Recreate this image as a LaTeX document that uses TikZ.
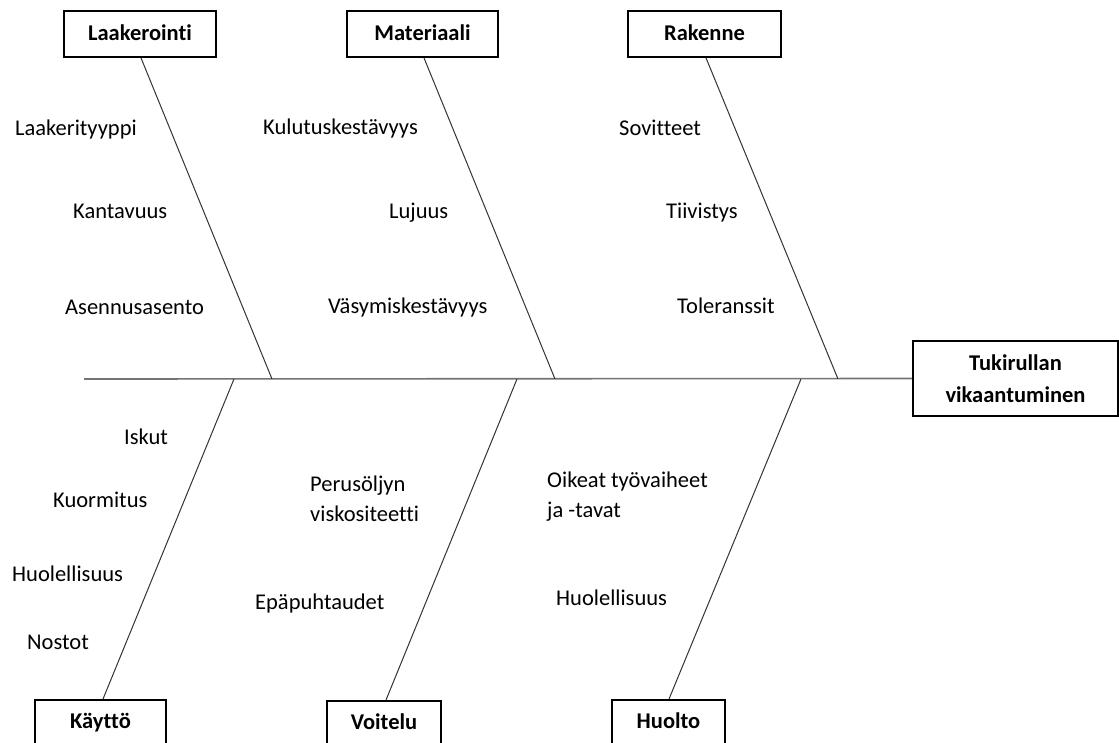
\documentclass[tikz,border=0pt]{standalone}
\usepackage{fontspec}
\setmainfont[Ligatures=NoCommon]{Carlito}
\begin{document}
\begin{tikzpicture}[x=1pt,y=-1pt,
  cat/.style={draw=black,line width=1.8pt,fill=white,inner sep=0pt,font=\fontsize{22.5}{32}\selectfont\bfseries,align=center},
  catone/.style={cat,text height=16pt,text depth=4pt,minimum height=46pt},
  lbl/.style={anchor=base west,inner sep=0pt,font=\fontsize{22.5}{30}\selectfont,align=left},
  bone/.style={draw=black!80,line width=1pt},
  spine/.style={draw=black!55,line width=1.6pt}]
\useasboundingbox (0,0) rectangle (1119,742);
\clip (0,0) rectangle (1119,742);
% boxes
\node[catone,minimum width=152pt] (laak) at (140,34) {Laakerointi};
\node[catone,minimum width=151pt] (mat) at (422.5,34) {Materiaali};
\node[catone,minimum width=153pt] (rak) at (704.5,34) {Rakenne};
\node[cat,minimum width=205pt,minimum height=75pt] (tuki) at (1015.5,378.5) {Tukirullan\\vikaantuminen};
\node[catone,minimum width=131pt,anchor=north] (kay) at (100.5,699) {K\"aytt\"o};
\node[catone,minimum width=114pt,anchor=north] (voi) at (384,700) {Voitelu};
\node[catone,minimum width=113pt,anchor=north] (huo) at (668.5,699) {Huolto};
% spine
\coordinate (s0) at (84,379);
\coordinate (j1) at (272,379);
\coordinate (j2) at (555,379);
\coordinate (j3) at (838,379);
\coordinate (k1) at (234,379);
\coordinate (k2) at (517,379);
\coordinate (k3) at (801,379);
\draw[spine] (s0) -- (tuki.west);
% bones
\draw[bone] (laak.south -| 141,0) -- (j1);
\draw[bone] (mat.south -| 424,0) -- (j2);
\draw[bone] (rak.south -| 706,0) -- (j3);
\draw[bone] (k1) -- (kay.north -| 103,0);
\draw[bone] (k2) -- (voi.north -| 386,0);
\draw[bone] (k3) -- (huo.north -| 669,0);
% labels top
\node[lbl] (t1) at (15,135) {Laakerityyppi};
\node[lbl] (t2) at (73,218) {Kantavuus};
\node[lbl] (t3) at (65,314) {Asennusasento};
\node[lbl] (t4) at (263,134) {Kulutuskest\"avyys};
\node[lbl] (t5) at (389,218) {Lujuus};
\node[lbl] (t6) at (328,313) {V\"asymiskest\"avyys};
\node[lbl] (t7) at (619,135) {Sovitteet};
\node[lbl] (t8) at (666,218) {Tiivistys};
\node[lbl] (t9) at (677,313) {Toleranssit};
% labels bottom
\node[lbl] (b1) at (124,444) {Iskut};
\node[lbl] (b2) at (53,507) {Kuormitus};
\node[lbl] (b3) at (12,581) {Huolellisuus};
\node[lbl] (b4) at (27,649) {Nostot};
\node[lbl] (b5) at (310,521) {Perus\"oljyn\\viskositeetti};
\node[lbl] (b6) at (255,609) {Ep\"apuhtaudet};
\node[lbl] (b7) at (547,517) {Oikeat ty\"ovaiheet\\ja -tavat};
\node[lbl] (b8) at (556,605) {Huolellisuus};
\end{tikzpicture}
\end{document}
